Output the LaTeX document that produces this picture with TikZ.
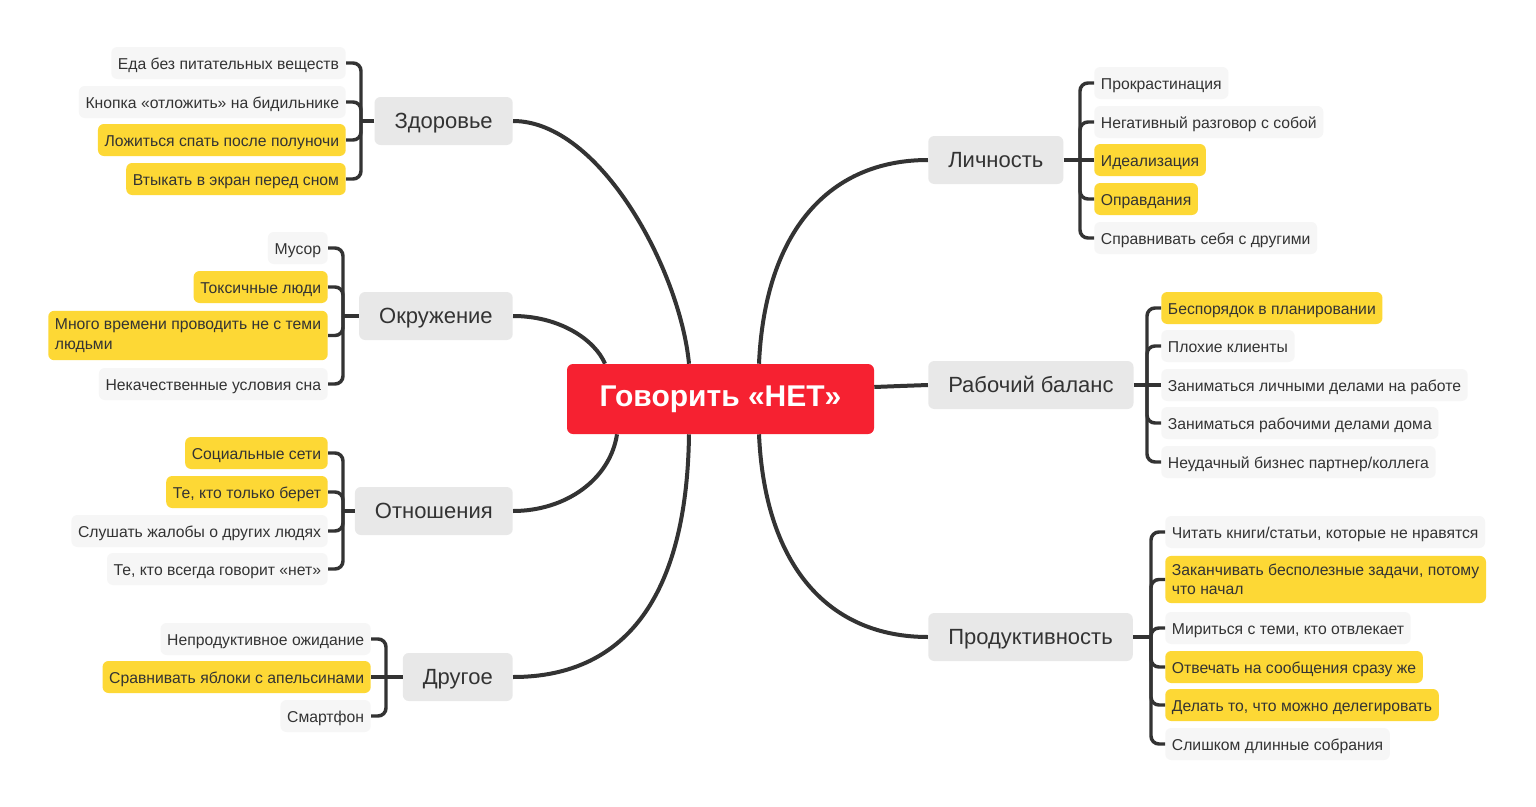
\documentclass[tikz,border=0pt]{standalone}
\usepackage{fontspec}
\setmainfont{Liberation Sans}
\usetikzlibrary{positioning,calc,backgrounds}
\definecolor{hubred}{RGB}{246,33,49}
\definecolor{topicgray}{RGB}{232,232,232}
\definecolor{leafgray}{RGB}{246,246,246}
\definecolor{leafyellow}{RGB}{253,216,53}
\definecolor{inkgray}{RGB}{51,51,51}
\tikzset{
    branch/.style={line width=3pt, draw=inkgray},
    twig/.style={line width=2.6pt, draw=inkgray, rounded corners=6pt},
    hub/.style={fill=hubred, text=white, rounded corners=4.5pt, minimum width=230.25pt, minimum height=52.5pt, inner sep=0pt, text height=1.15em, text depth=0pt, font=\fontsize{22.5pt}{27pt}\selectfont\bfseries},
    topic/.style={fill=topicgray, text=inkgray, rounded corners=4.5pt, minimum height=36pt, inner xsep=15pt, text height=1.12em, text depth=0pt, font=\fontsize{16.5pt}{20pt}\selectfont},
    leafbox/.style={fill=leafgray, text=inkgray, rounded corners=4.5pt, inner xsep=5pt, inner ysep=6pt, font=\fontsize{11.8pt}{14.6pt}\selectfont},
    leaf/.style={leafbox, minimum height=24pt, text height=0.98em, text depth=0pt},
    hot/.style={fill=leafyellow}
}
\begin{document}
\begin{tikzpicture}[x=0.75pt, y=-0.75pt]
    \useasboundingbox (0,0) rectangle (1536,807);

    \node[hub] (hub) at (720.5,399) {Говорить «НЕТ»};

    \node[topic, anchor=east] (health) at (513,121) {Здоровье};
    \node[topic, anchor=east] (env) at (513,316) {Окружение};
    \node[topic, anchor=east] (rel) at (513,511) {Отношения};
    \node[topic, anchor=east] (other) at (513,677) {Другое};
    \node[topic, anchor=west] (pers) at (928,160) {Личность};
    \node[topic, anchor=west] (bal) at (928,385) {Рабочий баланс};
    \node[topic, anchor=west] (prod) at (928,637) {Продуктивность};

    \coordinate (hb) at (361,121);
    \coordinate (eb) at (343,316);
    \coordinate (rb) at (343,511);
    \coordinate (ob) at (386,677);
    \coordinate (pb) at (1080,160);
    \coordinate (bb) at (1147,385);
    \coordinate (db) at (1151,637);

    \node[leaf, anchor=east] (health1) at (346,63) {Еда без питательных веществ};
    \node[leaf, anchor=east] (health2) at (346,102) {Кнопка «отложить» на бидильнике};
    \node[leaf, hot, anchor=east] (health3) at (346,140) {Ложиться спать после полуночи};
    \node[leaf, hot, anchor=east] (health4) at (346,179) {Втыкать в экран перед сном};

    \node[leaf, anchor=east] (env1) at (328,248) {Мусор};
    \node[leaf, hot, anchor=east] (env2) at (328,287) {Токсичные люди};
    \node[leafbox, hot, anchor=east, align=left] (env3) at (328,335.5) {Много времени проводить не с теми\\людьми};
    \node[leaf, anchor=east] (env4) at (328,384) {Некачественные условия сна};

    \node[leaf, hot, anchor=east] (rel1) at (328,453) {Социальные сети};
    \node[leaf, hot, anchor=east] (rel2) at (328,492) {Те, кто только берет};
    \node[leaf, anchor=east] (rel3) at (328,531) {Слушать жалобы о других людях};
    \node[leaf, anchor=east] (rel4) at (328,569) {Те, кто всегда говорит «нет»};

    \node[leaf, anchor=east] (other1) at (371,639) {Непродуктивное ожидание};
    \node[leaf, hot, anchor=east] (other2) at (371,677) {Сравнивать яблоки с апельсинами};
    \node[leaf, anchor=east] (other3) at (371,716) {Смартфон};

    \node[leaf, anchor=west] (pers1) at (1094,83) {Прокрастинация};
    \node[leaf, anchor=west] (pers2) at (1094,122) {Негативный разговор с собой};
    \node[leaf, hot, anchor=west] (pers3) at (1094,160) {Идеализация};
    \node[leaf, hot, anchor=west] (pers4) at (1094,199) {Оправдания};
    \node[leaf, anchor=west] (pers5) at (1094,238) {Справнивать себя с другими};

    \node[leaf, hot, anchor=west] (bal1) at (1161,308) {Беспорядок в планировании};
    \node[leaf, anchor=west] (bal2) at (1161,346) {Плохие клиенты};
    \node[leaf, anchor=west] (bal3) at (1161,385) {Заниматься личными делами на работе};
    \node[leaf, anchor=west] (bal4) at (1161,423) {Заниматься рабочими делами дома};
    \node[leaf, anchor=west] (bal5) at (1161,462) {Неудачный бизнес партнер/коллега};

    \node[leaf, anchor=west] (prod1) at (1165,532) {Читать книги/статьи, которые не нравятся};
    \node[leafbox, hot, anchor=west, align=left] (prod2) at (1165,579.5) {Заканчивать бесполезные задачи, потому\\что начал};
    \node[leaf, anchor=west] (prod3) at (1165,628) {Мириться с теми, кто отвлекает};
    \node[leaf, hot, anchor=west] (prod4) at (1165,667) {Отвечать на сообщения сразу же};
    \node[leaf, hot, anchor=west] (prod5) at (1165,705) {Делать то, что можно делегировать};
    \node[leaf, anchor=west] (prod6) at (1165,744) {Слишком длинные собрания};

    \begin{pgfonlayer}{background}
        \fill[white] (0,0) rectangle (1536,807);
        \draw[branch] ($(hub.north)+(-31.5,0)$) .. controls (680,270) and (600,121) .. (health.east);
        \draw[branch] ($(hub.north)+(-115.5,0)$) .. controls (595,340) and (560,316) .. (env.east);
        \draw[branch] ($(hub.south)+(-103.5,0)$) .. controls (610,480) and (565,511) .. (rel.east);
        \draw[branch] ($(hub.south)+(-31.5,0)$) .. controls (687,590) and (630,677) .. (other.east);
        \draw[branch] ($(hub.north)+(38.5,0)$) .. controls (765,230) and (830,160) .. (pers.west);
        \draw[branch] ($(hub.east)+(0,-12)$) .. controls (900,386) .. (bal.west);
        \draw[branch] ($(hub.south)+(38.5,0)$) .. controls (765,568) and (830,637) .. (prod.west);
    \end{pgfonlayer}

    \draw[twig] (health.west) -- (hb);
    \draw[twig] (health1.east) -| (hb);
    \draw[twig] (health2.east) -| (hb);
    \draw[twig] (health3.east) -| (hb);
    \draw[twig] (health4.east) -| (hb);

    \draw[twig] (env.west) -- (eb);
    \draw[twig] (env1.east) -| (eb);
    \draw[twig] (env2.east) -| (eb);
    \draw[twig] (env3.east) -| (eb);
    \draw[twig] (env4.east) -| (eb);

    \draw[twig] (rel.west) -- (rb);
    \draw[twig] (rel1.east) -| (rb);
    \draw[twig] (rel2.east) -| (rb);
    \draw[twig] (rel3.east) -| (rb);
    \draw[twig] (rel4.east) -| (rb);

    \draw[twig] (other.west) -- (ob);
    \draw[twig] (other1.east) -| (ob);
    \draw[twig] (other2.east) -- (ob);
    \draw[twig] (other3.east) -| (ob);

    \draw[twig] (pers.east) -- (pb);
    \draw[twig] (pers1.west) -| (pb);
    \draw[twig] (pers2.west) -| (pb);
    \draw[twig] (pers3.west) -- (pb);
    \draw[twig] (pers4.west) -| (pb);
    \draw[twig] (pers5.west) -| (pb);

    \draw[twig] (bal.east) -- (bb);
    \draw[twig] (bal1.west) -| (bb);
    \draw[twig] (bal2.west) -| (bb);
    \draw[twig] (bal3.west) -- (bb);
    \draw[twig] (bal4.west) -| (bb);
    \draw[twig] (bal5.west) -| (bb);

    \draw[twig] (prod.east) -- (db);
    \draw[twig] (prod1.west) -| (db);
    \draw[twig] (prod2.west) -| (db);
    \draw[twig] (prod3.west) -| (db);
    \draw[twig] (prod4.west) -| (db);
    \draw[twig] (prod5.west) -| (db);
    \draw[twig] (prod6.west) -| (db);
\end{tikzpicture}
\end{document}
